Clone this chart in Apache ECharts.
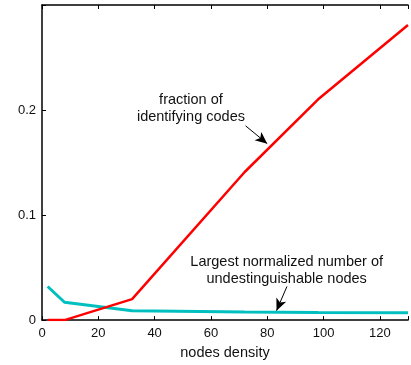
<!DOCTYPE html>
<html><head><meta charset="utf-8">
<script src="https://cdn.jsdelivr.net/npm/echarts@6/dist/echarts.min.js"></script>
<style>html,body{margin:0;padding:0;background:#fff}#c{width:411px;height:365px}</style>
</head><body><div id="c"></div>
<script>
const density = [2, 8, 32, 72, 98, 130];
const fractionCodes = [0, 0, 0.020, 0.141, 0.210, 0.281];
const largestUndist = [0.032, 0.017, 0.009, 0.0078, 0.0073, 0.0070];
const xTicks = [0, 20, 40, 60, 80, 100, 120];
const yTicks = [0, 0.1, 0.2];
const xLabel = 'nodes density';
const note1 = ['fraction of', 'identifying codes'];
const note2 = ['Largest normalized number of', 'undestinguishable nodes'];
const arrow1 = [[72.3, 0.185], [80, 0.168]];
const arrow2 = [[87, 0.032], [83.3, 0.009]];
const note1At = [52.9, 0.218];
const note2At = [86.9, 0.031];

const font = 'Liberation Sans, Arial, Helvetica, sans-serif';
const chart = echarts.init(document.getElementById('c'));
const pair = (xs, ys) => xs.map((x, i) => [x, ys[i]]);
chart.setOption({
  animation: false,
  grid: {left: 42, top: 5, right: -2, bottom: 44},
  xAxis: [{
    type: 'value', min: 0, max: 130, interval: 20,
    name: xLabel, nameLocation: 'middle', nameGap: 24,
    nameTextStyle: {color: '#111', fontSize: 14.5, fontFamily: font},
    axisLine: {lineStyle: {color: '#000', width: 1.5}},
    axisTick: {inside: true, length: 4, lineStyle: {color: '#000'}},
    axisLabel: {color: '#111', fontSize: 13, fontFamily: font, margin: 7,
      formatter: v => xTicks.includes(v) ? String(v) : ''},
    splitLine: {show: false}
  }, {
    type: 'value', position: 'top', min: 0, max: 130, interval: 20,
    axisLine: {show: true, lineStyle: {color: '#000', width: 1.5}},
    axisTick: {show: true, inside: true, length: 4, lineStyle: {color: '#000'}},
    axisLabel: {show: false}, splitLine: {show: false}
  }],
  yAxis: [{
    type: 'value', min: 0, max: 0.3, interval: 0.1,
    axisLine: {show: true, lineStyle: {color: '#000', width: 1.5}},
    axisTick: {show: true, inside: true, length: 4, lineStyle: {color: '#000'}},
    axisLabel: {color: '#111', fontSize: 13, fontFamily: font, margin: 6,
      formatter: v => {
        const t = yTicks.find(k => Math.abs(k - v) < 1e-9);
        return t === undefined ? '' : (t === 0 ? '0' : t.toFixed(1));
      }},
    splitLine: {show: false}
  }],
  series: [{
    type: 'line', data: pair(density, fractionCodes), symbol: 'none',
    lineStyle: {color: '#ff0000', width: 2.5}, z: 3,
    markLine: {
      silent: true, symbol: ['none', 'arrow'], symbolSize: [8, 12],
      lineStyle: {color: '#000', width: 1, type: 'solid'},
      label: {show: false},
      data: [
        [{coord: arrow1[0]}, {coord: arrow1[1]}],
        [{coord: arrow2[0]}, {coord: arrow2[1]}]
      ]
    }
  }, {
    type: 'line', data: pair(density, largestUndist), symbol: 'none',
    lineStyle: {color: '#00bfbf', width: 3}, z: 2
  }]
});
const p1 = chart.convertToPixel({xAxisIndex: 0, yAxisIndex: 0}, note1At);
const p2 = chart.convertToPixel({xAxisIndex: 0, yAxisIndex: 0}, note2At);
chart.setOption({graphic: [
  {type: 'text', x: p1[0], y: p1[1], style: {text: note1.join('\n'), fill: '#111',
    font: '14.5px ' + font, align: 'center', verticalAlign: 'top', lineHeight: 17}},
  {type: 'text', x: p2[0], y: p2[1], style: {text: note2.join('\n'), fill: '#111',
    font: '14.5px ' + font, align: 'center', verticalAlign: 'bottom', lineHeight: 17}}
]});
</script></body></html>
